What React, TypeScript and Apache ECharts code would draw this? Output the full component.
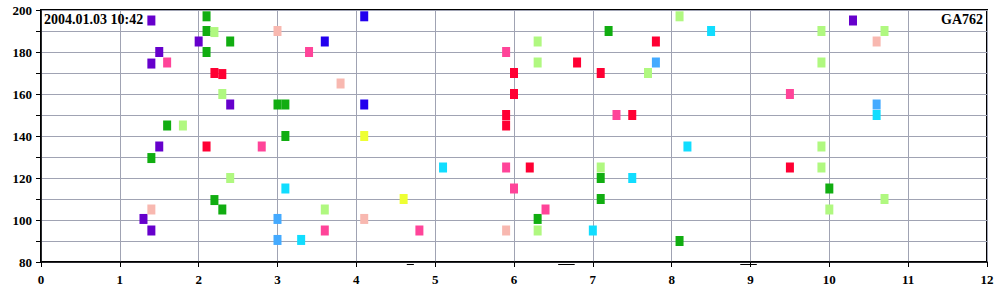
import React, { useEffect, useRef } from "react";
import * as echarts from "echarts";

const titleLeft = "2004.01.03 10:42";
const titleRight = "GA762";

const xTicks = [0, 12];
const yRange = [80, 200];

const purple: number[][] = [[1.4, 195], [2.0, 185], [1.5, 180], [1.4, 174.5], [2.4, 155], [1.5, 135], [1.3, 100.5], [1.4, 95], [10.3, 195]];
const green: number[][] = [[2.1, 197], [2.1, 190], [2.4, 185], [2.1, 180], [3.0, 155], [3.1, 155], [1.6, 145], [3.1, 140], [1.4, 129.5], [2.2, 109.5], [2.3, 105], [7.2, 190], [7.1, 120], [7.1, 110], [6.3, 100.5], [8.1, 90], [10.0, 115]];
const lightGreen: number[][] = [[2.2, 189.5], [2.3, 160], [1.8, 145], [2.4, 120], [3.6, 105], [8.1, 197], [6.3, 185], [6.3, 175], [7.7, 170], [7.1, 125], [6.3, 95], [9.9, 190], [10.7, 190], [9.9, 175], [9.9, 135], [9.9, 125], [10.7, 110], [10.0, 105]];
const pink: number[][] = [[1.6, 175], [3.4, 180], [2.8, 135], [3.6, 95], [4.8, 95], [5.9, 180], [7.3, 150], [5.9, 125], [6.0, 115], [6.4, 105], [9.5, 160]];
const red: number[][] = [[2.2, 170], [2.3, 169.5], [2.1, 135], [6.0, 170], [6.0, 160], [5.9, 150], [5.9, 145], [6.8, 175], [7.8, 185], [7.1, 170], [7.5, 150], [6.2, 125], [9.5, 125]];
const salmon: number[][] = [[3.0, 190], [3.8, 165], [1.4, 105], [4.1, 100.5], [5.9, 95], [10.6, 185]];
const blue: number[][] = [[3.6, 185], [4.1, 197], [4.1, 155]];
const sky: number[][] = [[3.0, 100.5], [3.0, 90.5], [7.8, 175], [10.6, 155]];
const cyan: number[][] = [[3.1, 115], [3.3, 90.5], [8.5, 190], [8.2, 135], [5.1, 125], [7.5, 120], [7.0, 95], [10.6, 150]];
const yellow: number[][] = [[4.1, 140], [4.6, 110]];

// small dashes just below the x axis: [start, end, y]
const dashes: number[][] = [[4.64, 4.73, 79], [6.56, 6.77, 79], [8.87, 9.08, 79]];

const groups: [string, number[][]][] = [
  ["#6600cc", purple],
  ["#11ad11", green],
  ["#b0f880", lightGreen],
  ["#ff4499", pink],
  ["#ff0033", red],
  ["#f8b8b0", salmon],
  ["#2200ee", blue],
  ["#44aaff", sky],
  ["#11ddff", cyan],
  ["#eeff33", yellow],
];

const font = "'Liberation Serif', 'Times New Roman', serif";

export default function App() {
  const ref = useRef<HTMLDivElement>(null);
  useEffect(() => {
    document.body.style.margin = "0";
    const chart = echarts.init(ref.current!, null, { renderer: "svg" });
    const series: any[] = groups.map(([color, data]) => ({
      type: "scatter",
      data,
      symbol: "rect",
      symbolSize: [8, 10],
      itemStyle: { color, opacity: 1 },
      clip: false,
    }));
    series.push({
      type: "custom",
      data: dashes,
      clip: false,
      renderItem: (params: any, api: any) => {
        const p1 = api.coord([api.value(0), api.value(2)]);
        const p2 = api.coord([api.value(1), api.value(2)]);
        return {
          type: "line",
          shape: { x1: p1[0], y1: Math.round(p1[1]) + 0.5, x2: p2[0], y2: Math.round(p1[1]) + 0.5 },
          style: { stroke: "#000", lineWidth: 1 },
        };
      },
    });
    chart.setOption({
      animation: false,
      backgroundColor: "#fff",
      title: [
        { text: titleLeft, left: 44, top: 12, textStyle: { fontFamily: font, fontSize: 14, fontWeight: "bold", color: "#000" }, padding: 0 },
        { text: titleRight, right: 17, top: 12, textStyle: { fontFamily: font, fontSize: 14, fontWeight: "bold", color: "#000" }, padding: 0 },
      ],
      grid: { left: 41, right: 13, top: 10, bottom: 38, show: true, borderColor: "#000", borderWidth: 2, backgroundColor: "transparent" },
      xAxis: {
        type: "value",
        min: xTicks[0],
        max: xTicks[1],
        interval: 1,
        axisLine: { show: true, lineStyle: { color: "#000", width: 1.5 } },
        axisTick: { show: true, length: 5, inside: false, lineStyle: { color: "#000" } },
        axisLabel: { fontFamily: font, fontSize: 13, fontWeight: "bold", color: "#000", margin: 11 },
        splitLine: { show: true, lineStyle: { color: "#a0a3b3", width: 1 } },
      },
      yAxis: {
        type: "value",
        min: yRange[0],
        max: yRange[1],
        interval: 10,
        axisLine: { show: true, lineStyle: { color: "#000", width: 1.5 } },
        axisTick: { show: true, length: 5, inside: false, lineStyle: { color: "#000" } },
        axisLabel: {
          fontFamily: font, fontSize: 13, fontWeight: "bold", color: "#000", margin: 9,
          formatter: (v: number) => (v % 20 === 0 ? String(v) : ""),
        },
        splitLine: { show: true, lineStyle: { color: "#a0a3b3", width: 1 } },
      },
      series,
    });
    return () => chart.dispose();
  }, []);
  return <div ref={ref} style={{ width: 1000, height: 300 }} />;
}
